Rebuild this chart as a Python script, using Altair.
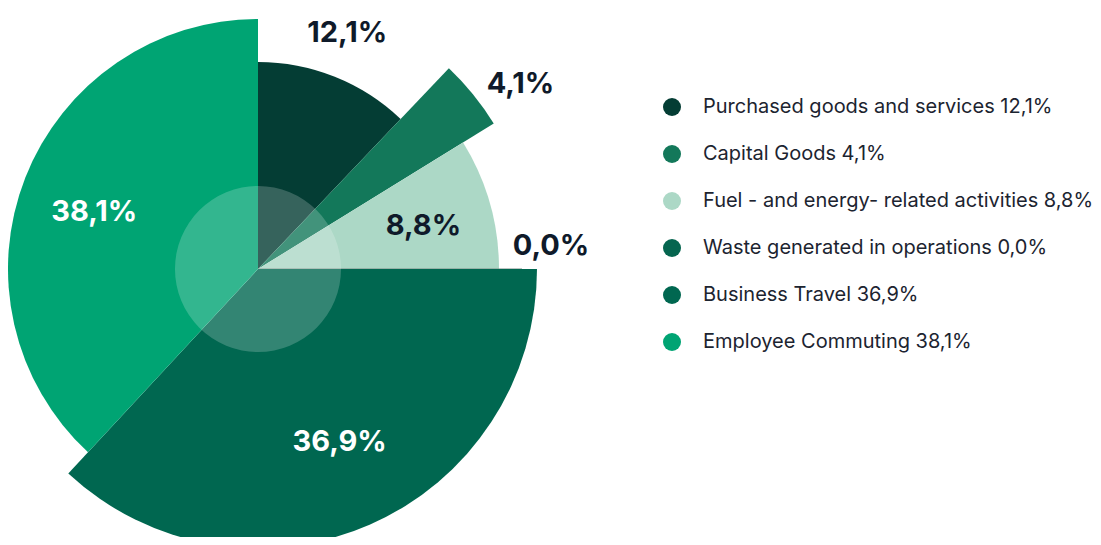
import altair as alt
import pandas as pd

names = [
    "Purchased goods and services",
    "Capital Goods",
    "Fuel - and energy- related activities",
    "Waste generated in operations",
    "Business Travel",
    "Employee Commuting",
]
values = [12.1, 4.1, 8.8, 0.0, 36.9, 38.1]
pct_labels = ["12,1%", "4,1%", "8,8%", "0,0%", "36,9%", "38,1%"]
colors = ["#043d34", "#13785a", "#acd8c6", "#05654f", "#006750", "#00a473"]

# decorative styling (pixel radii per slice / label)
slice_radius = [207, 277, 241, 264, 279, 250]
label_radius = [254, 320, 172, 293, 189, 176]

CX, CY = 250, 261
TAU = 6.283185307179586

df = pd.DataFrame({
    "idx": list(range(len(names))),
    "name": names,
    "value": values,
    "pct": pct_labels,
})
df["legend"] = df["name"] + " " + df["pct"]
legend_domain = list(df["legend"])
idx_domain = list(df["idx"])

base = alt.Chart(df).transform_window(
    cum="sum(value)", sort=[alt.SortField("idx", order="ascending")], frame=[None, 0]
).transform_joinaggregate(
    total="sum(value)"
).transform_calculate(
    t0="(datum.cum - datum.value) / datum.total",
    t1="datum.cum / datum.total",
    tm="(datum.cum - datum.value / 2) / datum.total",
)

theta_scale = alt.Scale(domain=[0, 1], range=[0, TAU])

arcs = base.mark_arc(stroke="#7a8c86").encode(
    theta=alt.Theta("t0:Q", scale=theta_scale),
    theta2="t1:Q",
    radius=alt.Radius("idx:Q", scale=alt.Scale(domain=idx_domain, range=slice_radius, zero=False)),
    radius2=alt.value(0),
    color=alt.Color(
        "legend:N",
        scale=alt.Scale(domain=legend_domain, range=colors),
        sort=legend_domain,
        legend=alt.Legend(
            title=None,
            orient="none",
            legendX=654,
            legendY=89,
            symbolType="circle",
            symbolSize=324,
            symbolStrokeWidth=0,
            symbolOpacity=1,
            labelFont="Inter",
            labelFontSize=20,
            labelColor="#1c2430",
            labelOffset=21,
            rowPadding=27,
            padding=0,
            labelLimit=600,
        ),
    ),
    strokeWidth=alt.condition("datum.idx == 3", alt.value(1.2), alt.value(0)),
    x=alt.value(CX),
    y=alt.value(CY),
)

inner = alt.Chart(pd.DataFrame({"k": [0]})).mark_arc(
    theta=0, theta2=TAU, radius=83, fill="white", opacity=0.2
).encode(x=alt.value(CX), y=alt.value(CY))

labels = base.mark_text(
    font="Inter", fontSize=29, fontWeight="bold",
    dx=alt.expr("datum.idx == 1 ? 14 : datum.idx == 4 ? 6 : datum.idx == 0 ? -5 : 0"),
    dy=alt.expr("datum.idx == 3 ? -23 : datum.idx == 1 ? 17 : datum.idx == 5 ? 7 : datum.idx == 2 ? 4 : 0"),
).encode(
    theta=alt.Theta("tm:Q", scale=theta_scale),
    radius=alt.Radius("idx:Q", scale=alt.Scale(domain=idx_domain, range=label_radius, zero=False)),
    text=alt.Text("pct:N"),
    color=alt.condition("datum.idx >= 4", alt.value("white"), alt.value("#0f1a2a")),
    x=alt.value(CX),
    y=alt.value(CY),
)

chart = alt.layer(arcs, inner, labels).resolve_scale(radius="independent").properties(
    width=1085, height=529, padding=0,
    autosize=alt.AutoSizeParams(type="none"),
).configure_view(stroke=None)

chart.save("out.html", embed_options={"renderer": "svg", "actions": False})
